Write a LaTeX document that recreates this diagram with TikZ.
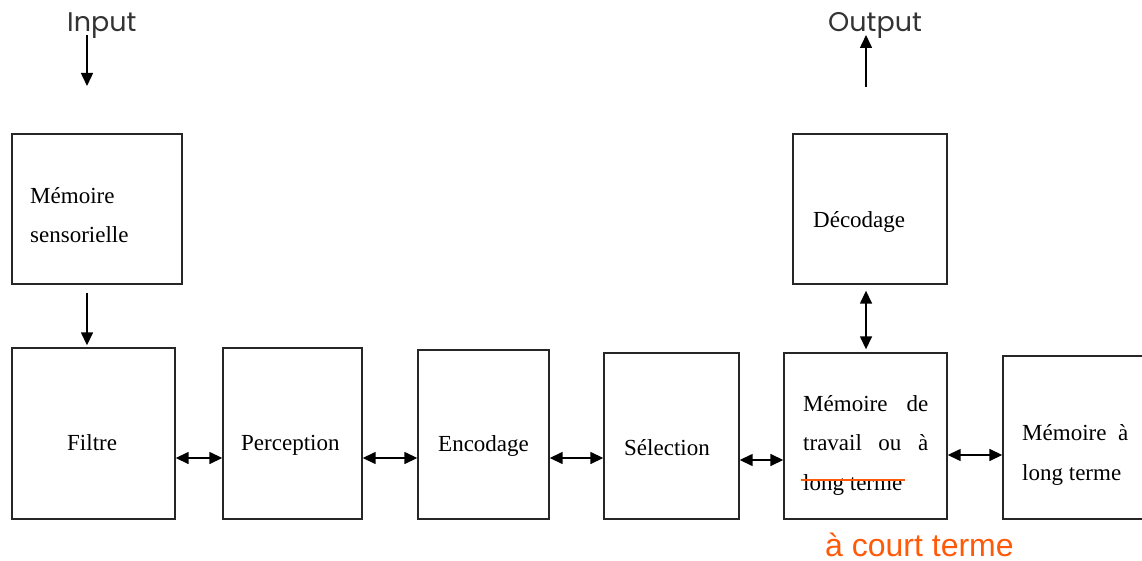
\documentclass[tikz,border=0pt]{standalone}
\usepackage{fontspec}
\setmainfont{Liberation Serif}
\newfontfamily\gothic{Poppins}
\newfontfamily\arialf{Liberation Sans}
\usetikzlibrary{arrows.meta}
\definecolor{strikeor}{HTML}{FF5A0A}
\definecolor{inoutgray}{HTML}{333333}
\begin{document}
\begin{tikzpicture}[x=1pt,y=-1pt,
  box/.style={draw=black!85,line width=1.4pt,inner sep=0pt,minimum width=#1},
  lbl/.style={anchor=base west,inner sep=0pt,font=\fontsize{23}{28}\selectfont},
  io/.style={anchor=base west,inner sep=0pt,text=inoutgray,font=\gothic\fontsize{27}{31}\selectfont},
  arr/.style={line width=1.5pt,-{Triangle[length=13pt,width=12pt]}},
  darr/.style={line width=1.5pt,{Triangle[length=13pt,width=12pt]}-{Triangle[length=13pt,width=12pt]}}]
\useasboundingbox (0,0) rectangle (1142,561);
% boxes
\node[box=170pt,minimum height=150pt] (sens) at (97,209) {};
\node[box=154pt,minimum height=150pt] (dec) at (870,209) {};
\node[box=163pt,minimum height=171pt] (filtre) at (93.5,433.5) {};
\node[box=139pt,minimum height=171pt] (perc) at (292.5,433.5) {};
\node[box=131pt,minimum height=169pt] (enc) at (483.5,434.5) {};
\node[box=135pt,minimum height=166pt] (sel) at (671.5,436) {};
\node[box=163pt,minimum height=166pt] (mt) at (865.5,436) {};
\node[box=150pt,minimum height=163pt] (mlt) at (1078,437.5) {};
% texts
\node[lbl] (t1a) at (30,204) {Mémoire};
\node[lbl] (t1b) at (30,243) {sensorielle};
\node[lbl] (t2) at (813,228) {Décodage};
\node[lbl] (t3) at (67,450) {Filtre};
\node[lbl] (t4) at (241,450) {Perception};
\node[lbl] (t5) at (438,451) {Encodage};
\node[lbl] (t6) at (624,455) {Sélection};
\node[lbl] (t7a) at (803,411) {\hbox to 125pt{Mémoire\hfill de}};
\node[lbl] (t7b) at (803,450) {\hbox to 125pt{travail\hfill ou\hfill à}};
\node[lbl] (t7c) at (803,490) {long terme};
\node[lbl] (t8a) at (1022,440) {\hbox to 106pt{Mémoire\hfill à}};
\node[lbl] (t8b) at (1022,480) {long terme};
\node[io] (input) at (67,32) {Input};
\node[io] (output) at (828,32) {Output};
\node[anchor=base west,inner sep=0pt,text=strikeor,font=\arialf\fontsize{32}{36}\selectfont] (court) at (825,556) {à court terme};
% strike-through
\coordinate (s1) at (801,480);
\coordinate (s2) at (905,480);
\draw[strikeor,line width=2pt] (s1) -- (s2);
% vertical arrows
\coordinate (in1) at (87,35);
\coordinate (in2) at (87,86);
\draw[arr] (in1) -- (in2);
\coordinate (out1) at (866,87);
\coordinate (out2) at (866,35);
\draw[arr] (out1) -- (out2);
\coordinate (ax) at (87,0);
\draw[arr,shorten <=8pt,shorten >=2pt] (sens.south -| ax) -- (filtre.north -| ax);
\coordinate (bx) at (866,0);
\draw[darr,shorten <=6pt,shorten >=3pt] (dec.south -| bx) -- (mt.north -| bx);
% horizontal arrows
\coordinate (ay) at (0,458);
\coordinate (by) at (0,460);
\coordinate (cy) at (0,455);
\draw[darr] (filtre.east |- ay) -- (perc.west |- ay);
\draw[darr] (perc.east |- ay) -- (enc.west |- ay);
\draw[darr] (enc.east |- ay) -- (sel.west |- ay);
\draw[darr] (sel.east |- by) -- (mt.west |- by);
\draw[darr] (mt.east |- cy) -- (mlt.west |- cy);
\end{tikzpicture}
\end{document}
